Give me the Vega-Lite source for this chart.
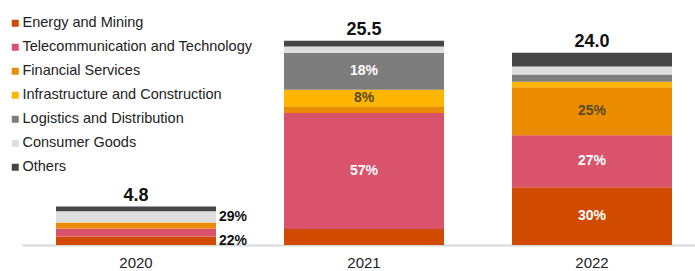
{
  "$schema": "https://vega.github.io/schema/vega-lite/v6.json",
  "width": 673,
  "height": 245,
  "autosize": {"type": "none"},
  "padding": {"left": 22, "top": 0, "right": 0, "bottom": 26},
  "config": {"view": {"stroke": null}, "font": "Liberation Sans"},
  "datasets": {
    "segments": [
      {"year": "2020", "sector": "Energy and Mining", "idx": 1, "value": 1.05, "pct": "22%"},
      {"year": "2020", "sector": "Telecommunication and Technology", "idx": 2, "value": 1.0, "pct": ""},
      {"year": "2020", "sector": "Financial Services", "idx": 3, "value": 0.75, "pct": ""},
      {"year": "2020", "sector": "Consumer Goods", "idx": 6, "value": 1.4, "pct": "29%"},
      {"year": "2020", "sector": "Others", "idx": 7, "value": 0.6, "pct": ""},
      {"year": "2021", "sector": "Energy and Mining", "idx": 1, "value": 2.0, "pct": ""},
      {"year": "2021", "sector": "Telecommunication and Technology", "idx": 2, "value": 14.5, "pct": "57%"},
      {"year": "2021", "sector": "Financial Services", "idx": 3, "value": 0.84, "pct": ""},
      {"year": "2021", "sector": "Infrastructure and Construction", "idx": 4, "value": 2.06, "pct": "8%"},
      {"year": "2021", "sector": "Logistics and Distribution", "idx": 5, "value": 4.6, "pct": "18%"},
      {"year": "2021", "sector": "Consumer Goods", "idx": 6, "value": 0.8, "pct": ""},
      {"year": "2021", "sector": "Others", "idx": 7, "value": 0.7, "pct": ""},
      {"year": "2022", "sector": "Energy and Mining", "idx": 1, "value": 7.2, "pct": "30%"},
      {"year": "2022", "sector": "Telecommunication and Technology", "idx": 2, "value": 6.5, "pct": "27%"},
      {"year": "2022", "sector": "Financial Services", "idx": 3, "value": 6.0, "pct": "25%"},
      {"year": "2022", "sector": "Infrastructure and Construction", "idx": 4, "value": 0.7, "pct": ""},
      {"year": "2022", "sector": "Logistics and Distribution", "idx": 5, "value": 0.9, "pct": ""},
      {"year": "2022", "sector": "Consumer Goods", "idx": 6, "value": 1.0, "pct": ""},
      {"year": "2022", "sector": "Others", "idx": 7, "value": 1.7, "pct": ""}
    ],
    "totals": [
      {"year": "2020", "total": 4.8},
      {"year": "2021", "total": 25.5},
      {"year": "2022", "total": 24.0}
    ]
  },
  "encoding": {
    "x": {
      "field": "year", "type": "nominal",
      "scale": {"range": [0, 684], "paddingInner": 0.3, "paddingOuter": 0.15},
      "axis": {"title": null, "labelAngle": 0, "ticks": false, "labelFontSize": 15, "labelColor": "#222222", "labelPadding": 10, "domainColor": "#d9d9d9", "domainWidth": 2}
    }
  },
  "layer": [
    {
      "data": {"name": "segments"},
      "mark": {"type": "bar", "width": 160},
      "encoding": {
        "y": {"field": "value", "type": "quantitative", "aggregate": "sum", "stack": "zero", "scale": {"domain": [0, 30.6]}, "axis": null},
        "color": {
          "field": "sector", "type": "nominal",
          "scale": {
            "domain": ["Energy and Mining", "Telecommunication and Technology", "Financial Services", "Infrastructure and Construction", "Logistics and Distribution", "Consumer Goods", "Others"],
            "range": ["#d04a02", "#d9536d", "#eb8c00", "#ffb600", "#7d7d7d", "#dedede", "#464646"]
          },
          "legend": {
            "title": null, "orient": "none", "legendX": -14, "legendY": 16,
            "symbolType": "square", "symbolSize": 49, "symbolStrokeWidth": 0,
            "labelFontSize": 14.5, "labelColor": "#222222", "labelOffset": 0,
            "rowPadding": 9, "labelLimit": 400
          }
        },
        "order": {"field": "idx", "type": "quantitative"}
      }
    },
    {
      "data": {"name": "segments"},
      "transform": [
        {"stack": "value", "groupby": ["year"], "sort": [{"field": "idx"}], "as": ["v0", "v1"]},
        {"calculate": "(datum.v0 + datum.v1) / 2", "as": "mid"},
        {"filter": "datum.pct != '' && datum.year != '2020'"}
      ],
      "mark": {"type": "text", "fontWeight": "bold", "fontSize": 14, "baseline": "middle"},
      "encoding": {
        "y": {"field": "mid", "type": "quantitative", "scale": {"domain": [0, 30.6]}},
        "text": {"field": "pct"},
        "color": {
          "condition": {"test": "datum.sector == 'Financial Services' || datum.sector == 'Infrastructure and Construction'", "value": "#5a4a20"},
          "value": "#ffffff"
        }
      }
    },
    {
      "data": {"name": "segments"},
      "transform": [
        {"stack": "value", "groupby": ["year"], "sort": [{"field": "idx"}], "as": ["v0", "v1"]},
        {"calculate": "(datum.v0 + datum.v1) / 2", "as": "mid"},
        {"filter": "datum.pct != '' && datum.year == '2020'"}
      ],
      "mark": {"type": "text", "fontWeight": "bold", "fontSize": 14, "baseline": "middle", "align": "left", "dx": 83, "color": "#111111"},
      "encoding": {
        "y": {"field": "mid", "type": "quantitative", "scale": {"domain": [0, 30.6]}},
        "text": {"field": "pct"}
      }
    },
    {
      "data": {"name": "totals"},
      "mark": {"type": "text", "fontWeight": "bold", "fontSize": 18, "baseline": "bottom", "dy": -2, "color": "#111111"},
      "encoding": {
        "y": {"field": "total", "type": "quantitative", "scale": {"domain": [0, 30.6]}},
        "text": {"field": "total", "format": ".1f"}
      }
    }
  ]
}
